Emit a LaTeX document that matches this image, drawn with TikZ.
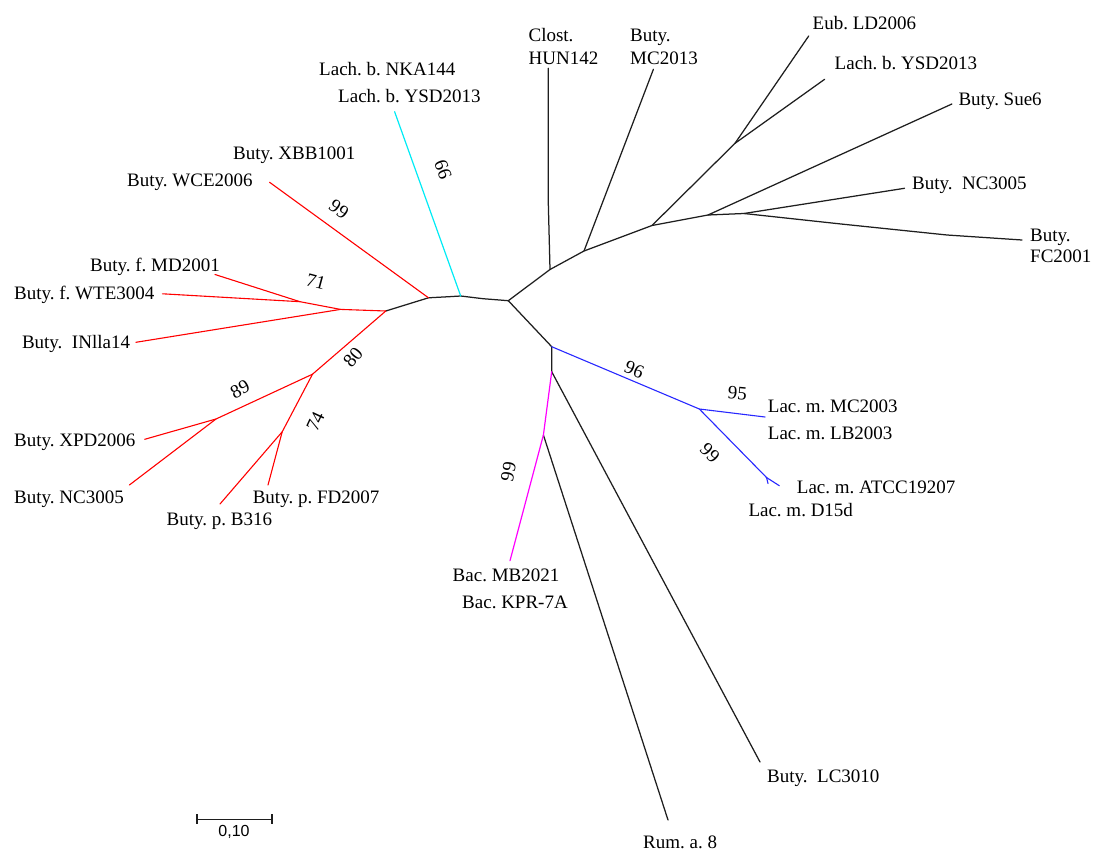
\documentclass[tikz,border=0pt]{standalone}
\usepackage{fontspec}
\setmainfont{Liberation Serif}
\newfontfamily\barfont{Liberation Sans}
\definecolor{tred}{RGB}{255,0,0}
\definecolor{tcyan}{RGB}{0,235,245}
\definecolor{tblue}{RGB}{40,40,255}
\definecolor{tmag}{RGB}{255,0,255}
\definecolor{tblack}{RGB}{30,30,30}
\begin{document}
\begin{tikzpicture}[x=1pt,y=-1pt,
  blk/.style={line width=1.25pt, draw=tblack, line join=round, line cap=round},
  redl/.style={line width=1.1pt, draw=tred, line join=round, line cap=round},
  cyl/.style={line width=1.2pt, draw=tcyan, line join=round, line cap=round},
  bll/.style={line width=1.1pt, draw=tblue, line join=round, line cap=round},
  mgl/.style={line width=1.2pt, draw=tmag, line join=round, line cap=round},
  leaf/.style={anchor=base west, inner sep=0pt, font=\frenchspacing\fontsize{19}{23.3}\selectfont},
  leaftwo/.style={anchor=west, inner sep=0pt, align=left, font=\frenchspacing\fontsize{19}{23.3}\selectfont},
  boot/.style={inner sep=0pt, font=\fontsize{19}{22}\selectfont}]
\useasboundingbox (0,0) rectangle (1094,850);

% internal nodes
\coordinate (A) at (385.8,311);
\coordinate (B) at (428.5,297.8);
\coordinate (b1) at (449,296.7);
\coordinate (C) at (460.7,296);
\coordinate (c1) at (483,298.7);
\coordinate (D) at (508.3,300.7);
\coordinate (E) at (550,269.5);
\coordinate (H) at (584,251);
\coordinate (I) at (652,225.5);
\coordinate (J) at (735,143.3);
\coordinate (K) at (708,215);
\coordinate (L) at (744,213.5);
\coordinate (l1) at (841,224);
\coordinate (l2) at (947,235);
\coordinate (D2) at (551.7,346.7);
\coordinate (F) at (551.7,371.7);
\coordinate (G) at (543.4,435);
\coordinate (N96) at (699.3,409);
\coordinate (N99) at (766.5,477.5);
\coordinate (N71) at (300,301.7);
\coordinate (N2) at (340.5,309.4);
\coordinate (N80) at (312.5,374.2);
\coordinate (N89) at (216,419);
\coordinate (N74) at (282.2,431.8);
\coordinate (cj1) at (548.3,203);

% leaf ends
\coordinate (eCy) at (394.6,111.7);
\coordinate (eWCE) at (269.6,182.3);
\coordinate (eMD) at (215,274.5);
\coordinate (eWTE) at (162.5,293.8);
\coordinate (eINL) at (135.9,342.3);
\coordinate (eXPD) at (144.7,439.3);
\coordinate (eNC) at (129.4,485);
\coordinate (eB316) at (220,504);
\coordinate (eFD) at (268,485);
\coordinate (eBac) at (510,560.7);
\coordinate (eRum) at (668,820);
\coordinate (eLC) at (760,762);
\coordinate (eMC03) at (765,417);
\coordinate (eATCC) at (779.3,485.7);
\coordinate (eD15) at (768,483.5);
\coordinate (eFC) at (1022,240);
\coordinate (eNCr) at (904.5,188.3);
\coordinate (eSue) at (951.9,104);
\coordinate (eLach) at (824.6,79.3);
\coordinate (eEub) at (808.7,36);
\coordinate (eMC13) at (653.4,69.3);
\coordinate (eClost) at (548.3,68.3);

% black backbone and branches
\draw[blk] (A) -- (B) -- (b1) -- (C) -- (c1) -- (D);
\draw[blk] (D) -- (E) -- (H) -- (I) -- (K) -- (L) -- (l1) -- (l2) -- (eFC);
\draw[blk] (E) -- (cj1) -- (eClost);
\draw[blk] (H) -- (eMC13);
\draw[blk] (I) -- (J) -- (eEub);
\draw[blk] (J) -- (eLach);
\draw[blk] (K) -- (eSue);
\draw[blk] (L) -- (eNCr);
\draw[blk] (D) -- (D2) -- (F);
\draw[blk] (F) -- (eLC);
\draw[blk] (G) -- (eRum);

% red clade
\draw[redl] (B) -- (eWCE);
\draw[redl] (A) -- (N2) -- (N71) -- (eWTE);
\draw[redl] (N71) -- (eMD);
\draw[redl] (N2) -- (eINL);
\draw[redl] (A) -- (N80) -- (N89) -- (eXPD);
\draw[redl] (N89) -- (eNC);
\draw[redl] (N80) -- (N74) -- (eB316);
\draw[redl] (N74) -- (eFD);

% cyan
\draw[cyl] (C) -- (eCy);

% blue clade
\draw[bll] (D2) -- (N96) -- (eMC03);
\draw[bll] (N96) -- (N99) -- (eATCC);
\draw[bll] (N99) -- (eD15);

% magenta
\draw[mgl] (F) -- (G) -- (eBac);

% leaf labels
\node[leaf] (tNKA) at (319,75.3) {Lach. b. NKA144};
\node[leaf] (tYSDl) at (338,102.3) {Lach. b. YSD2013};
\node[leaf] (tXBB) at (233,159.3) {Buty. XBB1001};
\node[leaf] (tWCE) at (127,186.3) {Buty. WCE2006};
\node[leaf] (tMD) at (90,271.3) {Buty. f. MD2001};
\node[leaf] (tWTE) at (14,299.3) {Buty. f. WTE3004};
\node[leaf] (tINL) at (21.8,348) {Buty.\ \ INlla14};
\node[leaf] (tXPD) at (14,446.3) {Buty. XPD2006};
\node[leaf] (tNC) at (14,503) {Buty. NC3005};
\node[leaf] (tB316) at (166.5,525.3) {Buty. p. B316};
\node[leaf] (tFD) at (252.6,503) {Buty. p. FD2007};
\node[leaf] (tMB) at (452.5,581.8) {Bac. MB2021};
\node[leaf] (tKPR) at (462,608) {Bac. KPR-7A};
\node[leaf] (tRum) at (643,848) {Rum. a. 8};
\node[leaf] (tLC) at (767,782.3) {Buty.\ \ LC3010};
\node[leaf] (tMC03) at (767.7,412.3) {Lac. m. MC2003};
\node[leaf] (tLB) at (767.7,439.6) {Lac. m. LB2003};
\node[leaf] (tATCC) at (796.7,493.6) {Lac. m. ATCC19207};
\node[leaf] (tD15) at (748.3,516.3) {Lac. m. D15d};
\node[leaftwo, font=\frenchspacing\fontsize{19}{21.7}\selectfont] (tFC) at (1030,245.9) {Buty.\\FC2001};
\node[leaf] (tNCr) at (912,189.6) {Buty.\ \ NC3005};
\node[leaf] (tSue) at (958.3,105.6) {Buty. Sue6};
\node[leaf] (tYSDr) at (834.5,69.6) {Lach. b. YSD2013};
\node[leaf] (tEub) at (812.5,29.6) {Eub. LD2006};
\node[leaftwo] (tMC13) at (630,46.6) {Buty.\\MC2013};
\node[leaftwo] (tClost) at (528.4,46.6) {Clost.\\HUN142};

% bootstrap values
\node[boot, rotate=110] (bCy) at (443,170) {99};
\node[boot, rotate=-36] (bWCE) at (339,209) {99};
\node[boot, rotate=-15] (b71) at (316,281.5) {71};
\node[boot, rotate=50] (b80) at (353,357) {80};
\node[boot, rotate=28] (b89) at (240,389.5) {89};
\node[boot, rotate=65] (b74) at (315.5,421.7) {74};
\node[boot, rotate=80] (bBac) at (508.5,471.7) {99};
\node[boot, rotate=-23] (b96) at (634.3,370) {96};
\node[boot, rotate=-5] (b95) at (737.3,393.3) {95};
\node[boot, rotate=-45] (bLac) at (710,453.3) {99};

% scale bar
\coordinate (s1) at (197,819.3);
\coordinate (s2) at (272,819.3);
\draw[line width=1.4pt, tblack] (s1) -- (s2);
\draw[line width=1.4pt, tblack] ([yshift=5pt]s1) -- ([yshift=-5pt]s1);
\draw[line width=1.4pt, tblack] ([yshift=5pt]s2) -- ([yshift=-5pt]s2);
\node[inner sep=0pt, font=\barfont\fontsize{16}{18}\selectfont] (sbl) at (234,831.5) {0,10};
\end{tikzpicture}
\end{document}
